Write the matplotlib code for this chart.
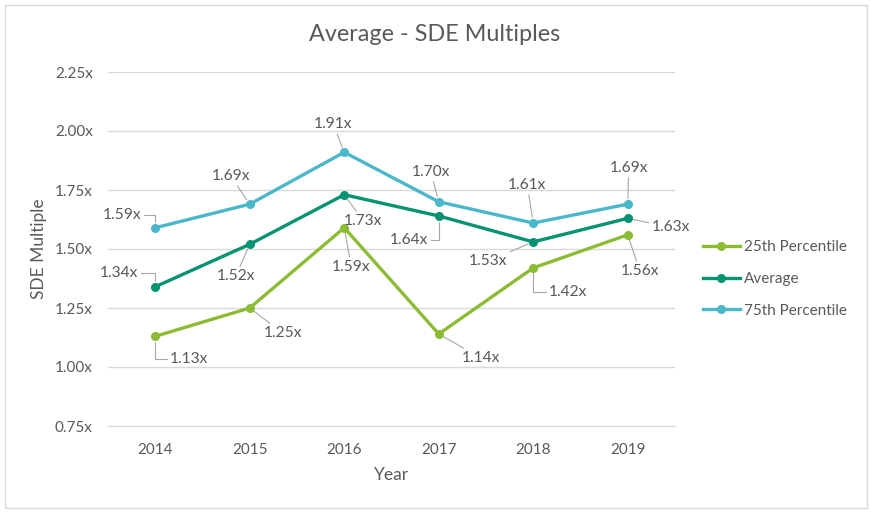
import matplotlib
matplotlib.use("Agg")
import matplotlib.pyplot as plt
from matplotlib.patches import Rectangle

plt.rcParams['font.family'] = ['Lato', 'DejaVu Sans']

# Data
years = ['2014', '2015', '2016', '2017', '2018', '2019']
p25 = [1.13, 1.25, 1.59, 1.14, 1.42, 1.56]
average = [1.34, 1.52, 1.73, 1.64, 1.53, 1.63]
p75 = [1.59, 1.69, 1.91, 1.70, 1.61, 1.69]
y_ticks = [0.75, 1.00, 1.25, 1.50, 1.75, 2.00, 2.25]

# Styling
text_col = '#595959'
grid_col = '#D9D9D9'
leader_col = '#A6A6A6'
colors = {'25th Percentile': '#8CBB34', 'Average': '#069374', '75th Percentile': '#4BB7CA'}

# label offsets in pixels (dx, dy) and whether leader is an elbow
offsets = {
    '25th Percentile': [(34, -23, 1), (33, -25, 0), (7, -39, 0), (42, -24, 0), (35, -24, 1), (12, -36, 0)],
    'Average': [(-36, 14, 1), (-14, -32, 0), (19, -26, 0), (-30, -24, 1), (-45, -19, 0), (43, -9, 0)],
    '75th Percentile': [(-33, 13, 1), (-19, 28, 0), (-11, 28, 0), (-8, 30, 0), (-6, 38, 0), (1, 36, 0)],
}
series = {'25th Percentile': p25, 'Average': average, '75th Percentile': p75}

fig = plt.figure(figsize=(8.71, 5.13), dpi=100)
fig.patches.append(Rectangle((4.5 / 871, 5 / 513), 862 / 871, 503 / 513, transform=fig.transFigure,
                             fill=False, edgecolor=grid_col, lw=1))
ax = fig.add_axes([108 / 871, 1 - 426 / 513, 567 / 871, 354 / 513])

x = list(range(len(years)))
for name, vals in series.items():
    ax.plot(x, vals, color=colors[name], lw=2.4, marker='o', markersize=5.5,
            solid_joinstyle='round', label=name, zorder=3)
    for i, v in enumerate(vals):
        dx, dy, elbow = offsets[name][i]
        cs = 'angle,angleA=0,angleB=90,rad=0' if elbow else 'arc3'
        ax.annotate(f'{v:.2f}x', (i, v), xytext=(dx, dy), textcoords='offset pixels',
                    ha='center', va='center', fontsize=11.2, color=text_col,
                    arrowprops=dict(arrowstyle='-', color=leader_col, lw=0.8,
                                    shrinkA=0, shrinkB=4, connectionstyle=cs))

ax.set_xlim(-0.5, len(years) - 0.5)
ax.set_ylim(0.75, 2.25)
ax.set_xticks(x)
ax.set_xticklabels(years)
ax.set_yticks(y_ticks)
ax.set_yticklabels([f'{t:.2f}x' for t in y_ticks])
ax.yaxis.grid(True, color=grid_col, lw=1)
ax.set_axisbelow(True)
for s in ['top', 'right', 'left']:
    ax.spines[s].set_visible(False)
ax.spines['bottom'].set_color(grid_col)
ax.tick_params(length=0, colors=text_col, labelsize=11)
ax.tick_params(axis='x', pad=12)
ax.tick_params(axis='y', pad=11)

ax.set_xlabel('Year', fontsize=12.5, color=text_col)
ax.set_ylabel('SDE Multiple', fontsize=12.5, color=text_col)
ax.xaxis.set_label_coords((391 - 108) / 567, (426 - 467) / 354)
ax.yaxis.set_label_coords((47 - 108) / 567, 0.5)
fig.text(435 / 871, 1 - 35 / 513, 'Average - SDE Multiples', ha='center', va='center',
         fontsize=16.8, color=text_col)

fig.legend(loc='center left', bbox_to_anchor=(703 / 871, 1 - 279 / 513), frameon=False,
           fontsize=11, labelcolor=text_col, handlelength=2.4, handletextpad=0.3,
           labelspacing=1.15, borderpad=0, borderaxespad=0)

fig.savefig('out.png', dpi=100)
